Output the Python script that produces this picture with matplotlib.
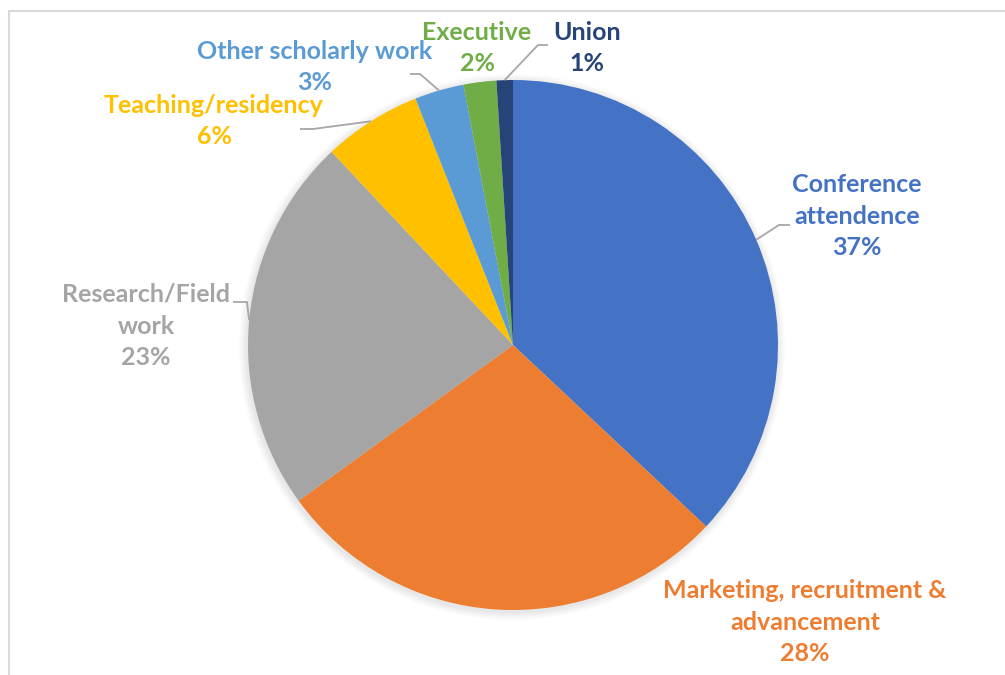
import numpy as np
import matplotlib.pyplot as plt

# Share of spending by category (percent)
labels = ["Conference\nattendence", "Marketing, recruitment &\nadvancement", "Research/Field\nwork",
          "Teaching/residency", "Other scholarly work", "Executive", "Union"]
values = [37, 28, 23, 6, 3, 2, 1]
colors = ["#4472C4", "#ED7D31", "#A5A5A5", "#FFC000", "#5B9BD5", "#70AD47", "#264478"]
label_colors = ["#4472C4", "#ED7D31", "#A5A5A5", "#FFC000", "#5B9BD5", "#70AD47", "#264478"]

# label centre (pixels, y measured from top) and leader elbow (None = no leader)
label_pos = [(857, 216), (805, 622), (146, 326), (214, 121), (315, 67), (477, 48), (587, 48)]
elbows = [(779, 225, 790), (None), (247, 302, 233), (313, 129, 300), (420, 74, 410), None, (538, 45, 548)]

W, H = 1005, 675
fig = plt.figure(figsize=(W / 100, H / 100), dpi=100)
ax = fig.add_axes([0, 0, 1, 1])
ax.set_xlim(0, W)
ax.set_ylim(0, H)
ax.axis("off")

cx, cy, r = 513, H - 345, 265

# soft shadow
for k in range(8):
    ax.add_patch(plt.Circle((cx - 1, cy - 2), r + 1 + k, color="k", alpha=0.012, lw=0, zorder=0))

wedges, _ = ax.pie(values, colors=colors, startangle=90, counterclock=False,
                   center=(cx, cy), radius=r, frame=True,
                   wedgeprops=dict(linewidth=0))
ax.set_xlim(0, W)
ax.set_ylim(0, H)
ax.set_aspect("equal")
ax.axis("off")

font = ["Lato", "DejaVu Sans"]
for i, w in enumerate(wedges):
    lx, ly = label_pos[i]
    txt = labels[i] + "\n" + f"{values[i]}%"
    ax.text(lx, H - ly, txt, ha="center", va="center", color=label_colors[i],
            fontsize=18, fontweight="bold", family=font, linespacing=1.45)
    e = elbows[i]
    if e is not None:
        mid = np.deg2rad((w.theta1 + w.theta2) / 2)
        ax_x = cx + r * np.cos(mid)
        ax_y = cy + r * np.sin(mid)
        ex, ey, hx = e
        ax.plot([ax_x, ex, hx], [ax_y, H - ey, H - ey], color="#A6A6A6", lw=1.3,
                solid_capstyle="butt", zorder=5)

# chart frame
ax.plot([8.5, 8.5, W], [0, H - 10.5, H - 10.5], color="#D9D9D9", lw=1.5, clip_on=False)

fig.savefig("out.png", dpi=100)
